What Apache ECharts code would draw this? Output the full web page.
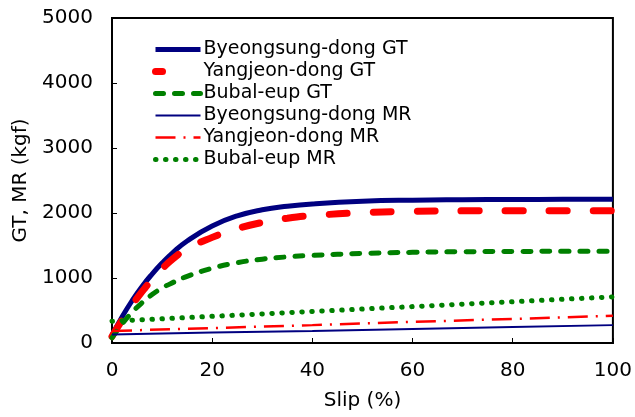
<!DOCTYPE html>
<html>
<head>
<meta charset="utf-8">
<script src="https://cdn.jsdelivr.net/npm/echarts@6/dist/echarts.min.js"></script>
<style>
  html, body { margin: 0; padding: 0; background: #fff; }
  #chart { width: 635px; height: 417px; }
</style>
</head>
<body>
<div id="chart"></div>
<script>
// slip (%) sample points
const slipGT = [0, 2, 4, 6, 8, 10, 12, 15, 20, 25, 30, 35, 40, 50, 60, 70, 80, 90, 100];
const byeongsungGT = [120, 400, 650, 870, 1060, 1230, 1380, 1570, 1800, 1955, 2050, 2105, 2140, 2180, 2198, 2205, 2208, 2210, 2210];
const yangjeonGT = [100, 350, 580, 790, 975, 1140, 1285, 1450, 1625, 1760, 1855, 1920, 1960, 2005, 2025, 2033, 2035, 2035, 2035];
const bubalGT = [80, 290, 470, 620, 745, 845, 925, 1025, 1150, 1235, 1290, 1325, 1348, 1378, 1395, 1404, 1408, 1410, 1410];

const slipMR = [0, 20, 40, 60, 80, 100];
const byeongsungMR = [130, 160, 185, 215, 245, 275];
const yangjeonMR = [185, 230, 275, 325, 370, 420];
const bubalMR = [335, 410, 485, 560, 635, 710];

const names = [
  'Byeongsung-dong GT', 'Yangjeon-dong GT', 'Bubal-eup GT',
  'Byeongsung-dong MR', 'Yangjeon-dong MR', 'Bubal-eup MR'
];

function pairs(xs, ys) {
  return xs.map((x, i) => [x, ys[i]]);
}

const font = 'DejaVu Sans';

var myChart = echarts.init(document.getElementById('chart'));

var option = {
  backgroundColor: '#fff',
  animation: false,
  grid: {
    left: 112,
    right: 19,
    top: 18,
    bottom: 74,
    show: true,
    borderColor: '#000',
    borderWidth: 2
  },
  legend: {
    orient: 'vertical',
    left: 152,
    top: 40,
    padding: 0,
    itemWidth: 45,
    itemHeight: 14,
    itemGap: 3,
    itemStyle: { opacity: 0 },
    lineStyle: { width: 'inherit' },
    textStyle: { fontFamily: font, fontSize: 19, color: '#000', padding: [0, 0, 0, -2] },
    // the red GT key shows a single dash in the original
    data: names.map((n, i) => i === 1 ? { name: n, lineStyle: { type: [7, 60] } } : n)
  },
  xAxis: {
    type: 'value',
    min: 0,
    max: 100,
    interval: 20,
    name: 'Slip (%)',
    nameLocation: 'middle',
    nameGap: 48,
    nameTextStyle: { fontFamily: font, fontSize: 20, color: '#000' },
    axisLine: { lineStyle: { color: '#000', width: 2 } },
    axisTick: { inside: true, length: 5, lineStyle: { color: '#000' } },
    axisLabel: { fontFamily: font, fontSize: 20, color: '#000', margin: 18 },
    splitLine: { show: false }
  },
  yAxis: {
    type: 'value',
    min: 0,
    max: 5000,
    interval: 1000,
    name: 'GT, MR (kgf)',
    nameLocation: 'middle',
    nameGap: 80,
    nameTextStyle: { fontFamily: font, fontSize: 20, color: '#000' },
    axisLine: { show: true, lineStyle: { color: '#000', width: 2 } },
    axisTick: { show: true, inside: true, length: 5, lineStyle: { color: '#000' } },
    axisLabel: { fontFamily: font, fontSize: 20, color: '#000', margin: 19, formatter: v => String(v) },
    splitLine: { show: false }
  },
  series: [
    {
      name: names[0], type: 'line', symbol: 'none', smooth: 0.5,
      data: pairs(slipGT, byeongsungGT),
      color: '#000080',
      lineStyle: { color: '#000080', width: 5 }
    },
    {
      name: names[1], type: 'line', symbol: 'none', smooth: 0.5,
      data: pairs(slipGT, yangjeonGT),
      color: '#ff0000',
      lineStyle: { color: '#ff0000', width: 7, type: [18, 26], cap: 'round' }
    },
    {
      name: names[2], type: 'line', symbol: 'none', smooth: 0.5,
      data: pairs(slipGT, bubalGT),
      color: '#008000',
      lineStyle: { color: '#008000', width: 5, type: [8, 11], cap: 'round' }
    },
    {
      name: names[3], type: 'line', symbol: 'none',
      data: pairs(slipMR, byeongsungMR),
      color: '#000080',
      lineStyle: { color: '#000080', width: 2 }
    },
    {
      name: names[4], type: 'line', symbol: 'none',
      data: pairs(slipMR, yangjeonMR),
      color: '#ff0000',
      lineStyle: { color: '#ff0000', width: 2.5, type: [20, 8, 2, 8] }
    },
    {
      name: names[5], type: 'line', symbol: 'none',
      data: pairs(slipMR, bubalMR),
      color: '#008000',
      lineStyle: { color: '#008000', width: 5, type: [0.5, 9.5], cap: 'round' }
    }
  ]
};

option && myChart.setOption(option);
</script>
</body>
</html>
